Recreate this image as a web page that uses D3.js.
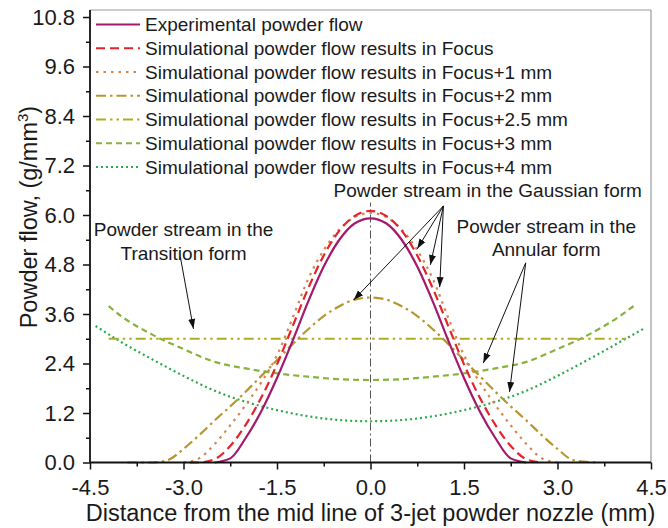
<!DOCTYPE html>
<html>
<head>
<meta charset="utf-8">
<script src="https://cdn.jsdelivr.net/npm/d3@7"></script>
<style>
  body { margin: 0; background: #fff; }
  text { font-family: "Liberation Sans", Arial, sans-serif; fill: #1a1a1a; }
</style>
</head>
<body>
<svg id="chart" width="668" height="528"></svg>
<script>
// values (mm, g/mm3)
const xExp = [-2.5,-2.25,-2,-1.75,-1.5,-1.25,-1,-0.75,-0.5,-0.25,0,0.25,0.5,0.75,1,1.25,1.5,1.75,2,2.25,2.5]
const yExp = [0,0.1,0.6,1.25,2.05,2.95,3.9,4.75,5.4,5.8,5.92,5.8,5.4,4.75,3.9,2.95,2.05,1.25,0.6,0.1,0]

const xFocus = [-2.9,-2.75,-2.5,-2.25,-2,-1.75,-1.5,-1.25,-1,-0.75,-0.5,-0.25,0,0.25,0.5,0.75,1,1.25,1.5,1.75,2,2.25,2.5,2.75]
const yFocus = [0,0,0.08,0.4,0.92,1.58,2.38,3.3,4.22,5.02,5.62,5.98,6.1,5.98,5.62,5.02,4.22,3.3,2.38,1.58,0.92,0.4,0.08,0]

const xFocus1 = [-3,-2.75,-2.5,-2.25,-2,-1.75,-1.5,-1.25,-1,-0.75,-0.5,-0.25,0,0.25,0.5,0.75,1,1.25,1.5,1.75,2,2.25,2.5,2.75,3]
const yFocus1 = [0,0.1,0.45,0.9,1.4,1.95,2.6,3.5,4.45,5.15,5.65,5.95,6.05,5.95,5.65,5.15,4.45,3.5,2.6,1.95,1.4,0.9,0.45,0.1,0]

const xFocus2 = [-3.9,-3.5,-3.25,-3,-2.75,-2.5,-2.25,-2,-1.75,-1.5,-1.25,-1,-0.75,-0.5,-0.25,0,0.25,0.5,0.75,1,1.25,1.5,1.75,2,2.25,2.5,2.75,3,3.25,3.65]
const yFocus2 = [0,0,0.06,0.33,0.66,1.02,1.36,1.72,2.1,2.48,2.87,3.23,3.55,3.79,3.95,4,3.95,3.79,3.55,3.23,2.87,2.48,2.1,1.72,1.36,1.02,0.66,0.33,0.06,0]

const xFocus25 = [-4.2,-3,-1.5,0,1.5,3,4.1]
const yFocus25 = [3,3,3,3,3,3,3]

const xFocus3 = [-4.2,-4,-3.5,-3,-2.5,-2,-1.5,-1,-0.5,0,0.5,1,1.5,2,2.5,3,3.5,4,4.22]
const yFocus3 = [3.79,3.55,3.1,2.75,2.44,2.28,2.16,2.08,2.02,2,2.02,2.08,2.16,2.28,2.44,2.75,3.1,3.55,3.79]

const xFocus4 = [-4.41,-4,-3.5,-3,-2.5,-2,-1.5,-1,-0.5,0,0.5,1,1.5,2,2.5,3,3.5,4,4.39]
const yFocus4 = [3.31,2.92,2.5,2.1,1.74,1.47,1.27,1.12,1.03,1,1.03,1.12,1.27,1.47,1.74,2.1,2.5,2.92,3.25]

const legendNames = [
  "Experimental powder flow",
  "Simulational powder flow results in Focus",
  "Simulational powder flow results in Focus+1 mm",
  "Simulational powder flow results in Focus+2 mm",
  "Simulational powder flow results in Focus+2.5 mm",
  "Simulational powder flow results in Focus+3 mm",
  "Simulational powder flow results in Focus+4 mm"
]
const xTicks = [-4.5,-3,-1.5,0,1.5,3,4.5]
const yTicks = [0,1.2,2.4,3.6,4.8,6,7.2,8.4,9.6,10.8]

const colors = ["#a3196b","#e3242b","#d4874a","#b8962b","#aeac22","#86b33a","#2fa84a"]
const dashes = ["none","9,5","2.5,5","10,4,2.5,4","10,4,2.5,4,2.5,4","6,4","2,3"]

const series = [
  [xExp,yExp],[xFocus,yFocus],[xFocus1,yFocus1],[xFocus2,yFocus2],
  [xFocus25,yFocus25],[xFocus3,yFocus3],[xFocus4,yFocus4]
].map((s,i)=>({
  name: legendNames[i],
  color: colors[i],
  dash: dashes[i],
  pts: s[0].map((x,j)=>({x:x, y:s[1][j]}))
}))

const svg = d3.select('#chart')
const W = 668, H = 528
const m = {left:90, right:17, top:10, bottom:65.5}

const x = d3.scaleLinear().domain([-4.5,4.5]).range([m.left, W-m.right])
const y = d3.scaleLinear().domain([0,10.97]).range([H-m.bottom, m.top])

// frame (top/right grey)
svg.append('line').attr('x1',x(-4.5)).attr('x2',x(4.5)).attr('y1',y(10.97)).attr('y2',y(10.97))
  .style('stroke','#9a9a9a').style('stroke-width',1.2)
svg.append('line').attr('x1',x(4.5)).attr('x2',x(4.5)).attr('y1',y(0)).attr('y2',y(10.97))
  .style('stroke','#9a9a9a').style('stroke-width',1.2)

// center line
svg.append('line')
  .attr('x1',x(0)).attr('x2',x(0)).attr('y1',y(0)).attr('y2',y(6.3))
  .style('stroke','#555').style('stroke-width',1).style('stroke-dasharray','8,3,2,3')

// curves
const line = d3.line().x(d=>x(d.x)).y(d=>y(d.y)).curve(d3.curveMonotoneX)
svg.append('g').selectAll('path')
  .data(series.slice().reverse())
  .join('path')
  .attr('d',d=>line(d.pts))
  .style('fill','none')
  .style('stroke',d=>d.color)
  .style('stroke-width',2.2)
  .style('stroke-dasharray',d=>d.dash)

// axes
const xMinor = d3.range(-4.5,4.51,0.75).filter(v=>!xTicks.includes(+v.toFixed(2)))
const yMinor = d3.range(0.6,10.8,1.2)

const gx = svg.append('g').attr('transform',`translate(0,${y(0)})`)
  .call(d3.axisBottom(x).tickValues(xTicks).tickFormat(v=>v.toFixed(1)).tickSize(7).tickPadding(10))
gx.append('g').call(d3.axisBottom(x).tickValues(xMinor).tickFormat('').tickSize(4))
  .select('.domain').remove()
const gy = svg.append('g').attr('transform',`translate(${x(-4.5)},0)`)
  .call(d3.axisLeft(y).tickValues(yTicks).tickFormat(v=>v.toFixed(1)).tickSize(7).tickPadding(8))
gy.append('g').call(d3.axisLeft(y).tickValues(yMinor).tickFormat('').tickSize(4))
  .select('.domain').remove()

svg.selectAll('.domain').style('stroke','#111').style('stroke-width',1.8)
svg.selectAll('.tick line').style('stroke','#111').style('stroke-width',1.5)
svg.selectAll('.tick text').style('font-size','22px').style('fill','#1a1a1a')
  .style('font-family','"Liberation Sans", Arial, sans-serif')
gx.select('.domain').attr('d',`M${x(-4.5)},0H${x(4.5)}`)
gy.select('.domain').attr('d',`M0,${y(0)}V${y(10.97)}`)

// axis titles
svg.append('text')
  .attr('x',(x(-4.5)+x(4.5))/2).attr('y',521)
  .attr('text-anchor','middle').style('font-size','23.5px')
  .text('Distance from the mid line of 3-jet powder nozzle (mm)')

const yt = svg.append('text')
  .attr('transform',`translate(37,${y(5.95)}) rotate(-90)`)
  .attr('text-anchor','middle').style('font-size','23.5px')
yt.append('tspan').text('Powder flow, (g/mm')
yt.append('tspan').text('3').attr('dy',-9).style('font-size','15px')
yt.append('tspan').text(')').attr('dy',9)

// legend
const leg = svg.append('g')
series.forEach((s,i)=>{
  const ly = 24.5 + i*23.75
  leg.append('line').attr('x1',96).attr('x2',140).attr('y1',ly).attr('y2',ly)
    .style('stroke',s.color).style('stroke-width',2.2).style('stroke-dasharray',s.dash)
  leg.append('text').attr('x',145).attr('y',ly).attr('dy','0.35em')
    .style('font-size','19px').text(s.name)
})

// annotations
const defs = svg.append('defs')
defs.append('marker').attr('id','arr').attr('viewBox','0 0 10 10')
  .attr('refX',10).attr('refY',5).attr('markerWidth',10).attr('markerHeight',10)
  .attr('markerUnits','userSpaceOnUse').attr('orient','auto')
  .append('path').attr('d','M0,1.5L10,5L0,8.5Z').style('fill','#111')

const arrows = [
  [1.17,6.22,0.75,5.18],[1.17,6.22,0.96,4.79],[1.17,6.22,1.11,4.25],[1.17,6.22,-0.27,3.94],
  [2.49,4.84,1.81,2.41],[2.49,4.84,2.23,1.71],
  [-3.05,4.98,-2.84,3.24]
]
svg.append('g').selectAll('line').data(arrows).join('line')
  .attr('x1',d=>x(d[0])).attr('y1',d=>y(d[1])).attr('x2',d=>x(d[2])).attr('y2',d=>y(d[3]))
  .style('stroke','#111').style('stroke-width',1).attr('marker-end','url(#arr)')

const notes = [
  [1.88,6.44,'Powder stream in the Gaussian form'],
  [2.82,5.56,'Powder stream in the'],
  [2.82,5.0,'Annular form'],
  [-3.0,5.49,'Powder stream in the'],
  [-3.0,4.91,'Transition form']
]
svg.append('g').selectAll('text').data(notes).join('text')
  .attr('x',d=>x(d[0])).attr('y',d=>y(d[1]))
  .attr('text-anchor','middle').style('font-size','19px')
  .text(d=>d[2])
</script>
</body>
</html>
